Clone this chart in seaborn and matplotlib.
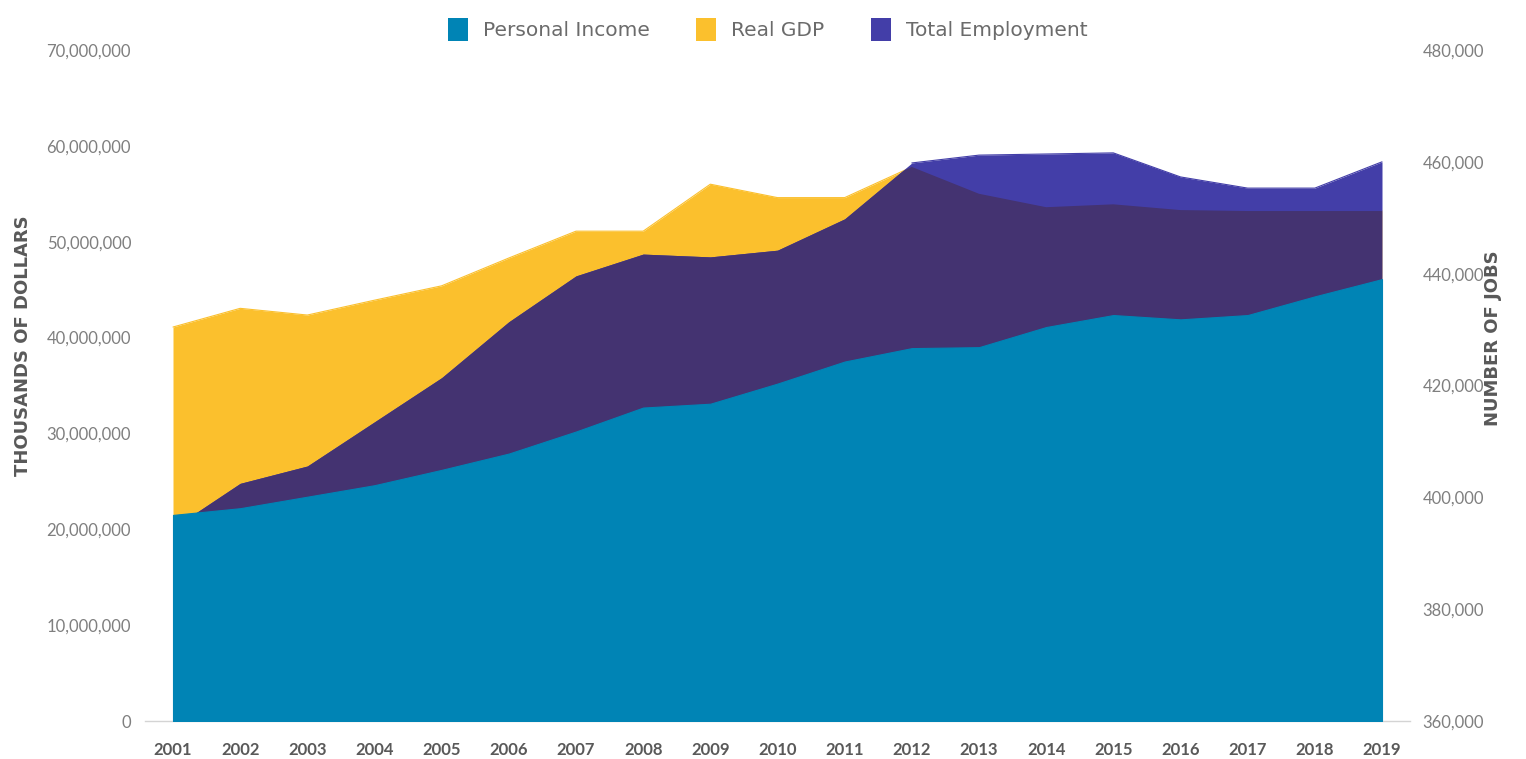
import matplotlib
matplotlib.use("Agg")
import matplotlib.pyplot as plt
import seaborn as sns
from matplotlib.patches import Patch
from matplotlib.ticker import FuncFormatter

# Data (personal income and real GDP in thousands of dollars, employment in jobs)
years = list(range(2001, 2020))
personal_income = [21_500_000, 22_200_000, 23_400_000, 24_600_000, 26_200_000,
                   27_900_000, 30_200_000, 32_700_000, 33_100_000, 35_200_000,
                   37_500_000, 38_900_000, 39_000_000, 41_100_000, 42_350_000,
                   41_900_000, 42_350_000, 44_300_000, 46_100_000]
real_gdp = [41_100_000, 43_050_000, 42_350_000, 43_900_000, 45_400_000,
            48_300_000, 51_100_000, 51_100_000, 56_000_000, 54_600_000,
            54_600_000, 57_800_000, 55_000_000, 53_600_000, 53_900_000,
            53_300_000, 53_200_000, 53_200_000, 53_200_000]
total_employment = [394_500, 402_500, 405_600, 413_500, 421_400,
                    431_400, 439_600, 443_500, 443_000, 444_200,
                    449_800, 459_800, 461_200, 461_400, 461_600,
                    457_300, 455_300, 455_300, 460_000]
series_names = ["Personal Income", "Real GDP", "Total Employment"]

TEAL = "#0084B5"
YELLOW = "#FBC02D"
PURPLE = "#433EA8"
OVERLAP = "#443371"
TICK_GREY = "#7f7f7f"
LABEL_GREY = "#595959"

sns.set_theme(style="white")
plt.rcParams["font.family"] = ["Lato", "DejaVu Sans"]

W, H = 1526, 759
fig = plt.figure(figsize=(W / 100, H / 100), dpi=100)
left_px, right_px, top_px, bottom_px = 145, 1410, 50, 721
ax = fig.add_axes([left_px / W, 1 - bottom_px / H,
                   (right_px - left_px) / W, (bottom_px - top_px) / H])

x_pad = 28 / ((1382 - 173) / 18)
ax.set_xlim(years[0] - x_pad, years[-1] + x_pad)
ax.set_ylim(0, 70_000_000)

# Real GDP area (left scale)
gdp_fill = ax.fill_between(years, 0, real_gdp, color=YELLOW, lw=0, zorder=1)
sns.lineplot(x=years, y=real_gdp, ax=ax, color=YELLOW, lw=0.8, zorder=2)

# Employment area (right scale); the part lying under the GDP area is darker
ax2 = ax.twinx()
ax2.set_ylim(360_000, 480_000)
ax2.fill_between(years, 360_000, total_employment, color=PURPLE, lw=0, zorder=1)
sns.lineplot(x=years[11:], y=total_employment[11:], ax=ax2, color=PURPLE,
             lw=0.8, zorder=2)
overlap = ax2.fill_between(years, 360_000, total_employment, color=OVERLAP,
                           lw=0, zorder=3)
overlap.set_clip_path(gdp_fill.get_paths()[0], ax.transData)

# Personal income area in front (left scale)
ax3 = ax.twinx()
ax3.set_ylim(0, 70_000_000)
ax3.fill_between(years, 0, personal_income, facecolor=TEAL, edgecolor=TEAL,
                 lw=0.8, zorder=1)
ax3.axis("off")

# Axes styling
for s in ["top", "left", "right"]:
    ax.spines[s].set_visible(False)
    ax2.spines[s].set_visible(False)
ax2.spines["bottom"].set_visible(False)
ax.spines["bottom"].set_color("#d4d4d4")
ax.spines["bottom"].set_linewidth(1.0)

ax.set_yticks(range(0, 70_000_001, 10_000_000))
ax.yaxis.set_major_formatter(FuncFormatter(lambda v, p: f"{int(v):,}"))
ax2.set_yticks(range(360_000, 480_001, 20_000))
ax2.yaxis.set_major_formatter(FuncFormatter(lambda v, p: f"{int(v):,}"))
ax.set_xticks(years)
ax.set_xticklabels([str(y) for y in years], fontweight="bold")

ax.tick_params(axis="y", length=0, pad=10, labelcolor=TICK_GREY, labelsize=12)
ax2.tick_params(axis="y", length=0, pad=9, labelcolor=TICK_GREY, labelsize=12)
ax.tick_params(axis="x", length=0, pad=15, labelcolor=LABEL_GREY, labelsize=12)
ax.set_xlabel("")
ax.set_ylabel("")
ax2.set_ylabel("")
ax.grid(False)
ax2.grid(False)

title_font = {"family": "DejaVu Sans", "weight": "bold", "size": 13}
fig.text(23 / W, 1 - 346 / H, "THOUSANDS OF DOLLARS", rotation=90,
         ha="center", va="center", color=LABEL_GREY, fontdict=title_font)
fig.text(1493 / W, 1 - 338 / H, "NUMBER OF JOBS", rotation=90,
         ha="center", va="center", color=LABEL_GREY, fontdict=title_font)

handles = [Patch(facecolor=c, edgecolor="none") for c in (TEAL, YELLOW, PURPLE)]
fig.legend(handles, series_names, loc="upper center", bbox_to_anchor=(0.503, 1.0),
           ncol=3, frameon=False, handlelength=1.0, handleheight=1.4,
           handletextpad=0.75, columnspacing=2.3, labelcolor="#6b6b6b",
           prop={"family": "DejaVu Sans", "size": 14.5})

fig.savefig("out.png", dpi=100, facecolor="white")
